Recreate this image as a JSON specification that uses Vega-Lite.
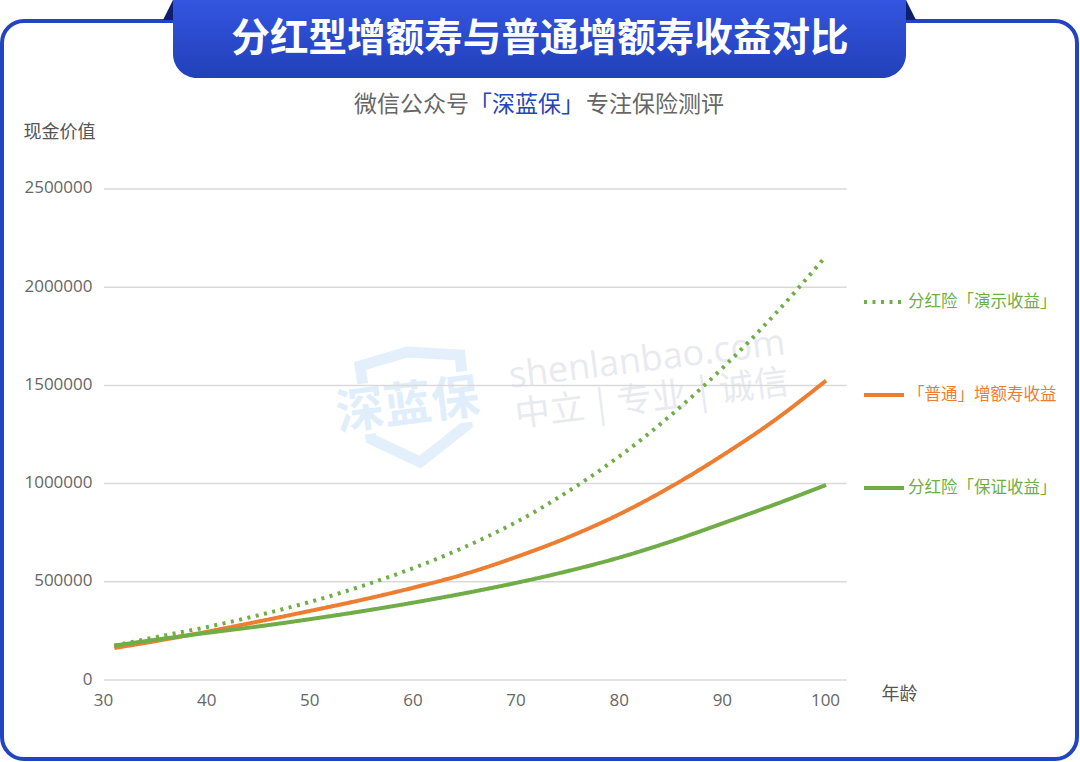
{
  "$schema": "https://vega.github.io/schema/vega-lite/v6.json",
  "width": 1075,
  "height": 738,
  "autosize": "none",
  "padding": {"left": 2, "top": 21, "right": 3, "bottom": 3},
  "background": "white",
  "datasets": {
    "series": [
      {"age": 31, "series": "分红险「演示收益」", "value": 175000},
      {"age": 35, "series": "分红险「演示收益」", "value": 218000},
      {"age": 40, "series": "分红险「演示收益」", "value": 270000},
      {"age": 45, "series": "分红险「演示收益」", "value": 330000},
      {"age": 50, "series": "分红险「演示收益」", "value": 398000},
      {"age": 55, "series": "分红险「演示收益」", "value": 478000},
      {"age": 60, "series": "分红险「演示收益」", "value": 570000},
      {"age": 65, "series": "分红险「演示收益」", "value": 678000},
      {"age": 70, "series": "分红险「演示收益」", "value": 805000},
      {"age": 75, "series": "分红险「演示收益」", "value": 960000},
      {"age": 80, "series": "分红险「演示收益」", "value": 1140000},
      {"age": 85, "series": "分红险「演示收益」", "value": 1350000},
      {"age": 90, "series": "分红险「演示收益」", "value": 1590000},
      {"age": 95, "series": "分红险「演示收益」", "value": 1860000},
      {"age": 100, "series": "分红险「演示收益」", "value": 2158000},
      {"age": 31, "series": "「普通」增额寿收益", "value": 163000},
      {"age": 35, "series": "「普通」增额寿收益", "value": 198000},
      {"age": 40, "series": "「普通」增额寿收益", "value": 246000},
      {"age": 45, "series": "「普通」增额寿收益", "value": 298000},
      {"age": 50, "series": "「普通」增额寿收益", "value": 352000},
      {"age": 55, "series": "「普通」增额寿收益", "value": 408000},
      {"age": 60, "series": "「普通」增额寿收益", "value": 470000},
      {"age": 65, "series": "「普通」增额寿收益", "value": 540000},
      {"age": 70, "series": "「普通」增额寿收益", "value": 627000},
      {"age": 75, "series": "「普通」增额寿收益", "value": 727000},
      {"age": 80, "series": "「普通」增额寿收益", "value": 845000},
      {"age": 85, "series": "「普通」增额寿收益", "value": 985000},
      {"age": 90, "series": "「普通」增额寿收益", "value": 1145000},
      {"age": 95, "series": "「普通」增额寿收益", "value": 1322000},
      {"age": 100, "series": "「普通」增额寿收益", "value": 1524000},
      {"age": 31, "series": "分红险「保证收益」", "value": 175000},
      {"age": 35, "series": "分红险「保证收益」", "value": 205000},
      {"age": 40, "series": "分红险「保证收益」", "value": 240000},
      {"age": 45, "series": "分红险「保证收益」", "value": 273000},
      {"age": 50, "series": "分红险「保证收益」", "value": 310000},
      {"age": 55, "series": "分红险「保证收益」", "value": 350000},
      {"age": 60, "series": "分红险「保证收益」", "value": 394000},
      {"age": 65, "series": "分红险「保证收益」", "value": 442000},
      {"age": 70, "series": "分红险「保证收益」", "value": 495000},
      {"age": 75, "series": "分红险「保证收益」", "value": 555000},
      {"age": 80, "series": "分红险「保证收益」", "value": 624000},
      {"age": 85, "series": "分红险「保证收益」", "value": 706000},
      {"age": 90, "series": "分红险「保证收益」", "value": 798000},
      {"age": 95, "series": "分红险「保证收益」", "value": 893000},
      {"age": 100, "series": "分红险「保证收益」", "value": 993000}
    ],
    "ticks": [{"tick": 0}, {"tick": 500000}, {"tick": 1000000}, {"tick": 1500000}, {"tick": 2000000}, {"tick": 2500000}]
  },
  "layer": [
    {
      "data": {"values": [{}]},
      "mark": {"type": "point", "shape": "M-0.5,-0.42 L-0.03,-0.56 L0.5,-0.53 L0.57,0.17 L0.1,0.54 L-0.39,0.31 Z", "filled": false, "stroke": "#E3F0FB", "strokeWidth": 11, "size": 40000, "opacity": 1},
      "encoding": {
        "x": {"datum": 59.67, "type": "quantitative", "scale": {"domain": [20.111, 124.335], "nice": false, "zero": false}},
        "y": {"datum": 1384929, "type": "quantitative", "scale": {"domain": [-402240, 3355397], "nice": false, "zero": false}}
      }
    },
    {
      "data": {"values": [{"label": "深蓝保"}]},
      "mark": {"type": "text", "font": "Noto Sans CJK SC", "fontWeight": "bold", "fontSize": 48, "angle": 353, "fill": null, "stroke": "white", "strokeWidth": 8},
      "encoding": {
        "x": {"datum": 59.47, "type": "quantitative", "scale": {"domain": [20.111, 124.335], "nice": false, "zero": false}},
        "y": {"datum": 1390020, "type": "quantitative", "scale": {"domain": [-402240, 3355397], "nice": false, "zero": false}},
        "text": {"field": "label"}
      }
    },
    {
      "data": {"values": [{"label": "深蓝保"}]},
      "mark": {"type": "text", "font": "Noto Sans CJK SC", "fontWeight": "bold", "fontSize": 48, "angle": 353, "color": "#E0EEFB"},
      "encoding": {
        "x": {"datum": 59.47, "type": "quantitative", "scale": {"domain": [20.111, 124.335], "nice": false, "zero": false}},
        "y": {"datum": 1390020, "type": "quantitative", "scale": {"domain": [-402240, 3355397], "nice": false, "zero": false}},
        "text": {"field": "label"}
      }
    },
    {
      "data": {"values": [{"label": "shenlanbao.com"}]},
      "mark": {"type": "text", "font": "Open Sans", "fontSize": 36, "angle": 353, "color": "#E8EAF0"},
      "encoding": {
        "x": {"datum": 82.65, "type": "quantitative", "scale": {"domain": [20.111, 124.335], "nice": false, "zero": false}},
        "y": {"datum": 1629328, "type": "quantitative", "scale": {"domain": [-402240, 3355397], "nice": false, "zero": false}},
        "text": {"field": "label"}
      }
    },
    {
      "data": {"values": [{"label": "中立\u2004|\u2004专业\u2004|\u2004诚信"}]},
      "mark": {"type": "text", "font": "Noto Sans CJK SC", "fontSize": 35, "angle": 353, "color": "#E8EAF0"},
      "encoding": {
        "x": {"datum": 83.13, "type": "quantitative", "scale": {"domain": [20.111, 124.335], "nice": false, "zero": false}},
        "y": {"datum": 1430754, "type": "quantitative", "scale": {"domain": [-402240, 3355397], "nice": false, "zero": false}},
        "text": {"field": "label"}
      }
    },
    {
      "data": {"name": "ticks"},
      "mark": {"type": "rule", "color": "#D9D9D9", "strokeWidth": 1.5},
      "encoding": {
        "x": {"datum": 30, "type": "quantitative", "scale": {"domain": [20.111, 124.335], "nice": false, "zero": false}},
        "x2": {"datum": 102},
        "y": {"field": "tick", "type": "quantitative", "scale": {"domain": [-402240, 3355397], "nice": false, "zero": false}}
      }
    },
    {
      "data": {"name": "series"},
      "mark": {"type": "line", "interpolate": "monotone", "strokeWidth": 4},
      "encoding": {
        "x": {
          "field": "age", "type": "quantitative",
          "scale": {"domain": [20.111, 124.335], "nice": false, "zero": false},
          "axis": {"orient": "bottom", "offset": -79, "values": [30, 40, 50, 60, 70, 80, 90, 100], "format": "d", "grid": false, "domain": false, "ticks": false, "labelFont": "Open Sans", "labelFontSize": 17, "labelColor": "#666666", "labelPadding": 12, "labelOffset": -1, "title": "年龄", "titleFont": "Noto Sans CJK SC", "titleFontSize": 18, "titleFontWeight": "normal", "titleColor": "#555555", "titleX": 897, "titleY": 14, "titleBaseline": "middle", "titleAlign": "center"}
        },
        "y": {
          "field": "value", "type": "quantitative",
          "scale": {"domain": [-402240, 3355397], "nice": false, "zero": false},
          "axis": {"orient": "left", "offset": -102, "values": [0, 500000, 1000000, 1500000, 2000000, 2500000], "format": "d", "grid": false, "domain": false, "ticks": false, "labelFont": "Open Sans", "labelFontSize": 17, "labelColor": "#666666", "labelPadding": 12, "labelOffset": -1, "title": "现金价值", "titleFont": "Noto Sans CJK SC", "titleFontSize": 18, "titleFontWeight": "normal", "titleColor": "#555555", "titleAngle": 0, "titleX": -81, "titleY": 111, "titleAlign": "left", "titleBaseline": "middle"}
        },
        "color": {
          "field": "series", "type": "nominal",
          "scale": {"domain": ["分红险「演示收益」", "「普通」增额寿收益", "分红险「保证收益」"], "range": ["#70AD47", "#ED7D31", "#70AD47"]},
          "legend": {"orient": "none", "legendX": 860, "legendY": 259, "title": null, "padding": 0, "symbolType": "stroke", "symbolSize": 1600, "symbolStrokeWidth": 4, "rowPadding": 62, "labelFont": "Noto Sans CJK SC", "labelFontSize": 16.5, "labelOffset": 2, "labelLimit": 200, "encode": {"labels": {"update": {"fill": {"scale": "color", "field": "value"}}}}}
        },
        "strokeDash": {
          "field": "series", "type": "nominal",
          "scale": {"domain": ["分红险「演示收益」", "「普通」增额寿收益", "分红险「保证收益」"], "range": [[3, 5.5], [1, 0], [1, 0]]},
          "legend": {"orient": "none", "legendX": 860, "legendY": 259, "title": null, "padding": 0, "symbolType": "stroke", "symbolSize": 1600, "symbolStrokeWidth": 4, "rowPadding": 62, "labelFont": "Noto Sans CJK SC", "labelFontSize": 16.5, "labelOffset": 2, "labelLimit": 200, "encode": {"labels": {"update": {"fill": {"scale": "color", "field": "value"}}}}}
        }
      }
    },
    {
      "data": {"values": [{}]},
      "mark": {"type": "rect", "cornerRadiusBottomLeft": 24, "cornerRadiusBottomRight": 24, "fill": {"gradient": "linear", "x1": 0, "y1": 0, "x2": 0, "y2": 1, "stops": [{"offset": 0, "color": "#3355E0"}, {"offset": 1, "color": "#2240B8"}]}},
      "encoding": {
        "x": {"datum": 36.69, "type": "quantitative", "scale": {"domain": [20.111, 124.335], "nice": false, "zero": false}},
        "x2": {"datum": 107.76},
        "y": {"datum": 3462322, "type": "quantitative", "scale": {"domain": [-402240, 3355397], "nice": false, "zero": false}},
        "y2": {"datum": 3065173}
      }
    },
    {
      "data": {"values": [{}]},
      "mark": {"type": "point", "shape": "M0.5,-1 L0.5,1 L-0.5,1 Z", "filled": true, "fill": "#0C2070", "stroke": null, "size": 400, "opacity": 1},
      "encoding": {
        "x": {"datum": 36.205, "type": "quantitative", "scale": {"domain": [20.111, 124.335], "nice": false, "zero": false}},
        "y": {"datum": 3411406, "type": "quantitative", "scale": {"domain": [-402240, 3355397], "nice": false, "zero": false}}
      }
    },
    {
      "data": {"values": [{}]},
      "mark": {"type": "point", "shape": "M-0.5,-1 L-0.5,1 L0.5,1 Z", "filled": true, "fill": "#0C2070", "stroke": null, "size": 400, "opacity": 1},
      "encoding": {
        "x": {"datum": 108.24, "type": "quantitative", "scale": {"domain": [20.111, 124.335], "nice": false, "zero": false}},
        "y": {"datum": 3411406, "type": "quantitative", "scale": {"domain": [-402240, 3355397], "nice": false, "zero": false}}
      }
    },
    {
      "data": {"values": [{"label": "分红型增额寿与普通增额寿收益对比"}]},
      "mark": {"type": "text", "font": "Noto Sans CJK SC", "fontSize": 38.6, "fontWeight": "bold", "color": "white"},
      "encoding": {
        "x": {"datum": 72.27, "type": "quantitative", "scale": {"domain": [20.111, 124.335], "nice": false, "zero": false}},
        "y": {"datum": 3263757, "type": "quantitative", "scale": {"domain": [-402240, 3355397], "nice": false, "zero": false}},
        "text": {"field": "label"}
      }
    },
    {
      "data": {"values": [{"label": "微信公众号"}]},
      "mark": {"type": "text", "font": "Noto Sans CJK SC", "fontSize": 23, "align": "left", "color": "#666666"},
      "encoding": {
        "x": {"datum": 54.24, "type": "quantitative", "scale": {"domain": [20.111, 124.335], "nice": false, "zero": false}},
        "y": {"datum": 2927699, "type": "quantitative", "scale": {"domain": [-402240, 3355397], "nice": false, "zero": false}},
        "text": {"field": "label"}
      }
    },
    {
      "data": {"values": [{"label": "「深蓝保」"}]},
      "mark": {"type": "text", "font": "Noto Sans CJK SC", "fontSize": 23, "align": "left", "color": "#2446B8"},
      "encoding": {
        "x": {"datum": 65.39, "type": "quantitative", "scale": {"domain": [20.111, 124.335], "nice": false, "zero": false}},
        "y": {"datum": 2927699, "type": "quantitative", "scale": {"domain": [-402240, 3355397], "nice": false, "zero": false}},
        "text": {"field": "label"}
      }
    },
    {
      "data": {"values": [{"label": "专注保险测评"}]},
      "mark": {"type": "text", "font": "Noto Sans CJK SC", "fontSize": 23, "align": "left", "color": "#666666"},
      "encoding": {
        "x": {"datum": 76.73, "type": "quantitative", "scale": {"domain": [20.111, 124.335], "nice": false, "zero": false}},
        "y": {"datum": 2927699, "type": "quantitative", "scale": {"domain": [-402240, 3355397], "nice": false, "zero": false}},
        "text": {"field": "label"}
      }
    }
  ],
  "config": {"view": {"stroke": "#2244C0", "strokeWidth": 4, "cornerRadius": 22, "fill": "white"}}
}
